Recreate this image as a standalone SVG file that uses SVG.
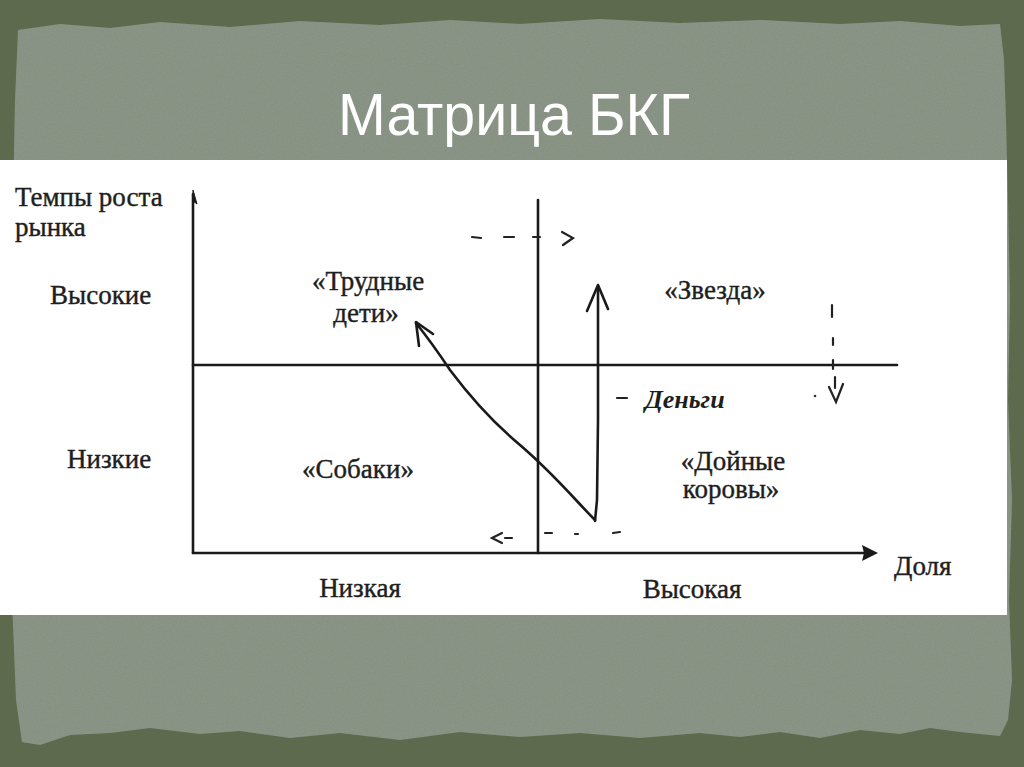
<svg xmlns="http://www.w3.org/2000/svg" width="1024" height="767" viewBox="0 0 1024 767">
<defs>
<filter id="grain" x="0" y="0" width="100%" height="100%">
<feTurbulence type="fractalNoise" baseFrequency="0.9" numOctaves="2" seed="3" result="n"/>
<feColorMatrix type="matrix" values="0 0 0 0 0  0 0 0 0 0  0 0 0 0 0  0 0 0 0.18 0" in="n" result="a"/>
<feComposite in="a" in2="SourceGraphic" operator="in" result="b"/>
<feMerge><feMergeNode in="SourceGraphic"/><feMergeNode in="b"/></feMerge>
</filter>
</defs>
<style>
.lbl{font-family:"Liberation Serif","Times New Roman",serif;font-size:27px;fill:#1e1e1e;stroke:#1e1e1e;stroke-width:0.4}
.mid{text-anchor:middle}
.ax{stroke:#1a1a1a;stroke-width:2.6;fill:none;stroke-linecap:round}
.hand{stroke:#1a1a1a;stroke-width:2.6;fill:none;stroke-linecap:round;stroke-linejoin:round}
.dash{stroke:#222;stroke-width:2.2;fill:none;stroke-linecap:round}
</style>
<rect x="0" y="0" width="1024" height="767" fill="#5d6a4e"/>
<polygon filter="url(#grain)" fill="#8f9a8b" points="18,30 60,24 110,28 160,22 230,27 300,21 380,25 450,20 520,24 600,19 680,23 760,20 840,24 900,21 960,26 1000,24 1004,60 1006,120 1008,200 1010,300 1008,400 1012,500 1009,600 1012,680 1008,720 1000,736 960,732 930,728 900,734 860,730 820,738 780,732 740,737 700,733 640,738 580,733 520,737 460,732 400,740 340,733 290,738 240,731 200,734 150,728 110,733 70,735 40,745 22,742 16,700 12,600 14,500 12,400 16,300 13,200 15,100"/>
<rect x="0" y="160" width="1007" height="455" fill="#ffffff"/>
<g id="title"><text x="514" y="135" text-anchor="middle" font-family="'Liberation Sans',Arial,sans-serif" font-size="59" fill="#ffffff" textLength="352" lengthAdjust="spacingAndGlyphs">Матрица БКГ</text></g>
<g id="connectors">
<line class="ax" x1="193" y1="194" x2="193" y2="553"/>
<path d="M193,190 L197,204 L193,201 Z" fill="#1a1a1a" stroke="#1a1a1a" stroke-width="1"/>
<line class="ax" x1="193" y1="553" x2="866" y2="553"/>
<path d="M878,553 L862,545 L864,553 L862,561 Z" fill="#1a1a1a"/>
<line class="ax" x1="538" y1="200" x2="538" y2="553"/>
<line class="ax" x1="193" y1="365" x2="897" y2="365"/>
<path class="hand" d="M595,520 C575,500 555,475 520,445 C490,420 465,390 450,370 C438,352 428,338 416,323"/>
<path class="hand" d="M433,334 L416,322 L419,346"/>
<path class="hand" d="M595,521 L597,500 L598,420 L598,350 L598,287"/>
<path class="hand" d="M587,311 L598,285 L608,309"/>
<line class="dash" x1="472" y1="237" x2="481" y2="238"/>
<line class="dash" x1="504" y1="237" x2="514" y2="237"/>
<line class="dash" x1="533" y1="237" x2="540" y2="237"/>
<path class="dash" d="M562,232 L573,238 L563,245"/>
<path class="dash" d="M502,533 L492,538 L502,543"/>
<line class="dash" x1="505" y1="538" x2="512" y2="538"/>
<line class="dash" x1="545" y1="533" x2="552" y2="533"/>
<line class="dash" x1="575" y1="534" x2="578" y2="534"/>
<line class="dash" x1="613" y1="533" x2="620" y2="532"/>
<line class="dash" x1="832" y1="305" x2="832" y2="317"/>
<line class="dash" x1="833" y1="338" x2="833" y2="345"/>
<line class="dash" x1="833" y1="360" x2="833" y2="369"/>
<line class="dash" x1="835" y1="377" x2="835" y2="388"/>
<path class="dash" d="M829,387 L836,402 L843,384"/>
<circle cx="815" cy="396" r="1.3" fill="#333"/>
<line class="dash" x1="617" y1="398" x2="627" y2="398"/>
</g>
<g id="y-axis-title"><text class="lbl" x="15" y="206">Темпы роста</text><text class="lbl" x="15" y="236">рынка</text></g>
<g id="y-high"><text class="lbl" x="50" y="304">Высокие</text></g>
<g id="y-low"><text class="lbl" x="67" y="468">Низкие</text></g>
<g id="x-low"><text class="lbl mid" x="360" y="597">Низкая</text></g>
<g id="x-high"><text class="lbl mid" x="692" y="598">Высокая</text></g>
<g id="x-axis-title"><text class="lbl" x="894" y="575">Доля</text></g>
<g id="q-problem"><text class="lbl mid" x="368" y="290">«Трудные</text><text class="lbl mid" x="366" y="322">дети»</text></g>
<g id="q-star"><text class="lbl mid" x="715" y="299">«Звезда»</text></g>
<g id="q-dogs"><text class="lbl mid" x="358" y="478">«Собаки»</text></g>
<g id="q-cows"><text class="lbl mid" x="733" y="470">«Дойные</text><text class="lbl mid" x="731" y="498">коровы»</text></g>
<g id="money"><text x="645" y="408" font-family="'Liberation Serif',serif" font-style="italic" font-weight="bold" font-size="26" fill="#1e1e1e">Деньги</text></g>
</svg>
